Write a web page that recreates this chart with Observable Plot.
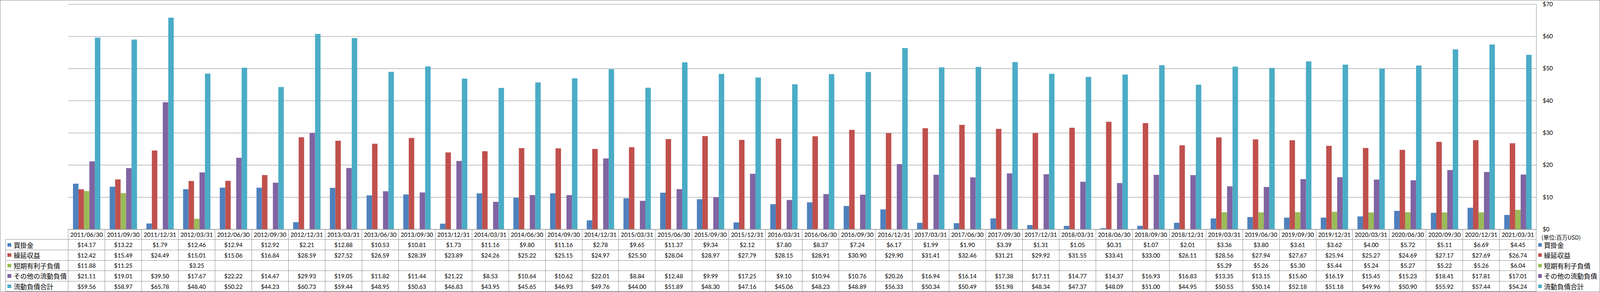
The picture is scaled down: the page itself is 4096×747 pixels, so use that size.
<!DOCTYPE html>
<html>
<head>
<meta charset="utf-8">
<script src="https://cdn.jsdelivr.net/npm/d3@7"></script>
<script src="https://cdn.jsdelivr.net/npm/@observablehq/plot@0.6"></script>
<style>
html, body { margin: 0; padding: 0; background: #fff; }
#wrap { position: relative; width: 4096px; height: 747px; overflow: hidden; background: #fff; }
#wrap > svg { position: absolute; left: 0; top: 0; }
.cell { position: absolute; display: flex; align-items: center; justify-content: center; font-family: Lato, "Open Sans", sans-serif; font-size: 15px; color: #000; white-space: nowrap; }
.leg { position: absolute; display: flex; align-items: center; font-family: "Noto Sans CJK JP", sans-serif; font-size: 17px; color: #000; white-space: nowrap; }
.sq { display: inline-block; width: 9.3px; height: 9.3px; flex: none; }
.ln { position: absolute; background: #8c8c8c; }
</style>
</head>
<body>
<div id="wrap"></div>
<script>
// ---- data ----
const dates = ["2011/06/30","2011/09/30","2011/12/31","2012/03/31","2012/06/30","2012/09/30","2012/12/31","2013/03/31","2013/06/30","2013/09/30","2013/12/31","2014/03/31","2014/06/30","2014/09/30","2014/12/31","2015/03/31","2015/06/30","2015/09/30","2015/12/31","2016/03/31","2016/06/30","2016/09/30","2016/12/31","2017/03/31","2017/06/30","2017/09/30","2017/12/31","2018/03/31","2018/06/30","2018/09/30","2018/12/31","2019/03/31","2019/06/30","2019/09/30","2019/12/31","2020/03/31","2020/06/30","2020/09/30","2020/12/31","2021/03/31"];
const seriesNames = ["買掛金","繰延収益","短期有利子負債","その他の流動負債","流動負債合計"];
const seriesColors = ["#4F81BD","#C0504D","#9BBB59","#8064A2","#4BACC6"];
const accountsPayable = [14.17,13.22,1.79,12.46,12.94,12.92,2.21,12.88,10.53,10.81,1.73,11.16,9.80,11.16,2.78,9.65,11.37,9.34,2.12,7.80,8.37,7.24,6.17,1.99,1.90,3.39,1.31,1.05,0.31,1.07,2.01,3.36,3.80,3.61,3.62,4.00,5.72,5.11,6.69,4.45];
const deferredRevenue = [12.42,15.49,24.49,15.01,15.06,16.84,28.59,27.52,26.59,28.39,23.89,24.26,25.22,25.15,24.97,25.50,28.04,28.97,27.79,28.15,28.91,30.90,29.90,31.41,32.46,31.21,29.92,31.55,33.41,33.00,26.11,28.56,27.94,27.67,25.94,25.27,24.69,27.17,27.69,26.74];
const shortTermDebt = [11.88,11.25,null,3.25,null,null,null,null,null,null,null,null,null,null,null,null,null,null,null,null,null,null,null,null,null,null,null,null,null,null,null,5.29,5.26,5.30,5.44,5.24,5.27,5.22,5.26,6.04];
const otherCurrent = [21.11,19.01,39.50,17.67,22.22,14.47,29.93,19.05,11.82,11.44,21.22,8.53,10.64,10.62,22.01,8.84,12.48,9.99,17.25,9.10,10.94,10.76,20.26,16.94,16.14,17.38,17.11,14.77,14.37,16.93,16.83,13.35,13.15,15.60,16.19,15.45,15.23,18.41,17.81,17.01];
const totalCurrent = [59.56,58.97,65.78,48.40,50.22,44.23,60.73,59.44,48.95,50.63,46.83,43.95,45.65,46.93,49.76,44.00,51.89,48.30,47.16,45.06,48.23,48.89,56.33,50.34,50.49,51.98,48.34,47.37,48.09,51.00,44.95,50.55,50.14,52.18,51.18,49.96,50.90,55.92,57.44,54.24];
const yTicks = [0,10,20,30,40,50,60,70];
const unitLabel = "(単位:百万USD)";

const seriesValues = [accountsPayable, deferredRevenue, shortTermDebt, otherCurrent, totalCurrent];
const rows = dates.flatMap((d, i) => seriesNames.map((s, j) => ({date: d, series: s, value: seriesValues[j][i]})))
  .filter(r => r.value != null);

// ---- layout ----
const W = 4096, H = 600;
const plotLeft = 174.7, plotRight = 3932.7, plotTop = 10.5, plotBottom = 586.5;
const gridColor = "#868686";
const common = {
  width: W, height: H,
  marginLeft: plotLeft, marginRight: W - plotRight,
  marginTop: plotTop, marginBottom: H - plotBottom,
  style: {fontFamily: "Lato, 'Open Sans', sans-serif", fontSize: "15px", color: "#000", background: "transparent", overflow: "visible"}
};

// layer 1: gridlines, right value axis, right border of plot area
const gridLayer = Plot.plot({
  ...common,
  x: {axis: null},
  y: {domain: [0, 70]},
  marks: [
    Plot.ruleY(yTicks, {stroke: gridColor, strokeWidth: 1, strokeOpacity: 1}),
    Plot.axisY(yTicks, {anchor: "right", tickSize: 0, tickPadding: 16, tickFormat: d => "$" + d, label: null, fill: "#000"}),
    Plot.frame({anchor: "right", stroke: gridColor})
  ]
});

// layer 2: grouped bars
const barLayer = Plot.plot({
  ...common,
  fx: {domain: dates, paddingInner: 1.5 / 6.5, paddingOuter: 0.75 / 6.5, axis: null, label: null},
  x: {domain: seriesNames, padding: 0, axis: null},
  y: {domain: [0, 70], axis: null},
  color: {domain: seriesNames, range: seriesColors},
  marks: [
    Plot.barY(rows, {fx: "date", x: "series", y: "value", fill: "series"})
  ]
});

const wrap = document.getElementById("wrap");
wrap.appendChild(gridLayer);
wrap.appendChild(barLayer);

function add(cls, css, text) {
  const e = document.createElement("div");
  e.className = cls;
  Object.assign(e.style, css);
  if (text != null) e.textContent = text;
  wrap.appendChild(e);
  return e;
}
function hline(xa, xb, y) { add("ln", {left: xa + "px", top: (y - 0.5) + "px", width: (xb - xa) + "px", height: "1px"}); }
function vline(x, ya, yb) { add("ln", {left: (x - 0.5) + "px", top: ya + "px", width: "1px", height: (yb - ya) + "px"}); }

// ---- data table ----
const n = dates.length;
const step = (plotRight - plotLeft) / n;
const tTop = 586.7, hdrBot = 612.9, rowH = 26.6, tLeft = 14.4;
const tBot = hdrBot + seriesNames.length * rowH;

hline(plotLeft, plotRight, tTop);
hline(tLeft, plotRight, hdrBot);
seriesNames.forEach((s, i) => hline(tLeft, plotRight, hdrBot + (i + 1) * rowH));
vline(tLeft, hdrBot, tBot);
for (let k = 0; k <= n; k++) vline(plotLeft + k * step, tTop, tBot);

dates.forEach((d, i) => {
  add("cell", {left: (plotLeft + i * step) + "px", top: tTop + "px", width: step + "px", height: (hdrBot - tTop) + "px"}, d);
  seriesValues.forEach((vals, j) => {
    const v = vals[i];
    add("cell", {left: (plotLeft + i * step) + "px", top: (hdrBot + j * rowH) + "px", width: step + "px", height: rowH + "px"},
      v == null ? "" : "$" + v.toFixed(2));
  });
});

function legendItem(x, y, w, name, color, gap1, gap2) {
  const e = add("leg", {left: x + "px", top: y + "px", width: w + "px", height: rowH + "px"});
  const sq = document.createElement("span");
  sq.className = "sq";
  sq.style.background = color;
  sq.style.marginLeft = gap1 + "px";
  const lb = document.createElement("span");
  lb.textContent = name;
  lb.style.marginLeft = gap2 + "px";
  e.appendChild(sq); e.appendChild(lb);
}
seriesNames.forEach((s, j) => {
  legendItem(tLeft, hdrBot + j * rowH, plotLeft - tLeft, s, seriesColors[j], 5.1, 6.1);
  legendItem(plotRight, hdrBot + j * rowH, W - plotRight, s, seriesColors[j], 5.3, 5.2);
});

add("leg", {left: "3946px", top: "597px", height: "18px", fontSize: "14.5px"}, unitLabel);

// outer frame
add("", {position: "absolute", left: "0px", top: "0px", width: W + "px", height: "747px", boxSizing: "border-box", border: "1px solid #878787", pointerEvents: "none"});
</script>
</body>
</html>
